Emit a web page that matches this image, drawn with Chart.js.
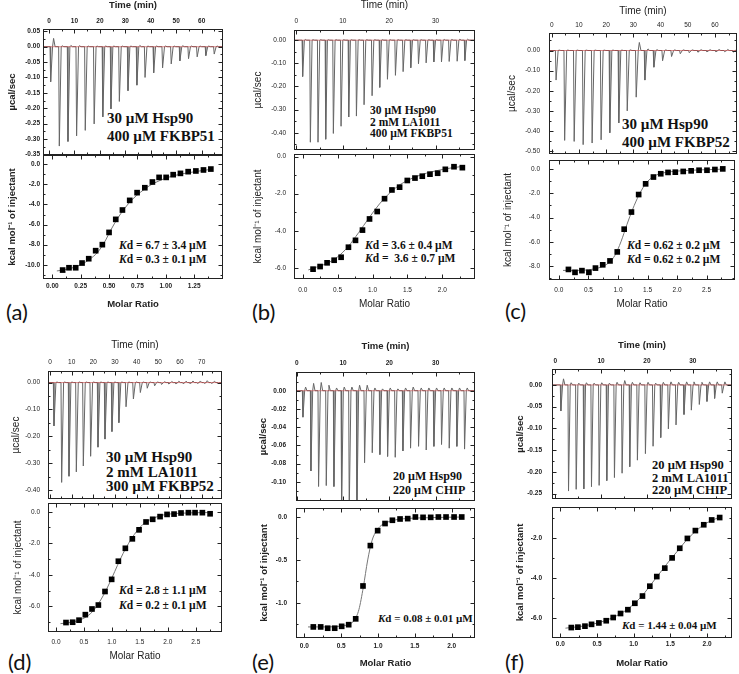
<!DOCTYPE html>
<html>
<head>
<meta charset="utf-8">
<script src="https://cdn.jsdelivr.net/npm/chart.js@4.4.1/dist/chart.umd.min.js"></script>
<style>
  body { margin: 0; background: #fff; width: 739px; height: 674px; position: relative; overflow: hidden; }
  canvas { position: absolute; }
  .note { position: absolute; font-family: "Liberation Serif", "Times New Roman", serif; font-weight: bold; color: #111; white-space: nowrap; }
  .tag { position: absolute; font-family: Lato, "Open Sans", sans-serif; font-size: 22px; line-height: 26px; color: #111; }
</style>
</head>
<body>

<div class="note" style="left:107px;top:109px;font-size:15px;line-height:18px">30 µM Hsp90<br>400 µM FKBP51</div>
<div class="note" style="left:119px;top:238px;font-size:11.5px;line-height:14px"><i>K</i>d = 6.7 ± 3.4 µM<br><i>K</i>d = 0.3 ± 0.1 µM</div>
<div class="note" style="left:370px;top:105px;font-size:11.5px;line-height:11.5px">30 µM Hsp90<br>2 mM LA1011<br>400 µM FKBP51</div>
<div class="note" style="left:365px;top:239px;font-size:11.5px;line-height:13.3px"><i>K</i>d = 3.6 ± 0.4 µM<br><i>K</i>d = &nbsp;3.6 ± 0.7 µM</div>
<div class="note" style="left:622px;top:115px;font-size:15px;line-height:18px">30 µM Hsp90<br>400 µM FKBP52</div>
<div class="note" style="left:627px;top:238px;font-size:11.5px;line-height:14px"><i>K</i>d = 0.62 ± 0.2 µM<br><i>K</i>d = 0.62 ± 0.2 µM</div>
<div class="note" style="left:106px;top:450px;font-size:15px;line-height:14.5px">30 µM Hsp90<br>2 mM LA1011<br>300 µM FKBP52</div>
<div class="note" style="left:119px;top:583px;font-size:11.5px;line-height:15.3px"><i>K</i>d = 2.8 ± 1.1 µM<br><i>K</i>d = 0.2 ± 0.1 µM</div>
<div class="note" style="left:393px;top:469px;font-size:12px;line-height:14px">20 µM Hsp90<br>220 µM CHIP</div>
<div class="note" style="left:378px;top:611px;font-size:11px;line-height:14px"><i>K</i>d = 0.08 ± 0.01 µM</div>
<div class="note" style="left:652px;top:459px;font-size:12.5px;line-height:12.5px">20 µM Hsp90<br>2 mM LA1011<br>220 µM CHIP</div>
<div class="note" style="left:622px;top:618px;font-size:11px;line-height:14px"><i>K</i>d = 1.44 ± 0.04 µM</div>

<div class="tag" style="left:6px;top:299px">(a)</div>
<div class="tag" style="left:252px;top:299px">(b)</div>
<div class="tag" style="left:505px;top:298px">(c)</div>
<div class="tag" style="left:8px;top:649px">(d)</div>
<div class="tag" style="left:252px;top:649px">(e)</div>
<div class="tag" style="left:505px;top:649px">(f)</div>

<script>
// (a) 30 uM Hsp90 / 400 uM FKBP51
const A_TIME = [0.4, 3.8, 7.2, 10.6, 14.0, 17.5, 20.9, 24.1, 27.4, 30.8, 34.3, 37.5, 40.9, 44.4, 47.8, 51.2, 54.6, 58.0, 61.4, 64.7];
const A_PEAK = [-0.114, -0.323, -0.308, -0.29, -0.272, -0.251, -0.228, -0.202, -0.178, -0.143, -0.125, -0.10, -0.085, -0.069, -0.056, -0.046, -0.039, -0.033, -0.029, -0.024];
const A_BUMP = [0.027, 0.003, 0.004, 0.003, 0.002, 0.002, 0.002, 0.002, 0.002, 0.002, 0.004, 0.002, 0.002, 0.002, 0.002, 0.003, 0.002, 0.002, 0.002, 0.002];
const A_RATIO = [0.091, 0.147, 0.206, 0.262, 0.321, 0.382, 0.441, 0.5, 0.559, 0.618, 0.682, 0.747, 0.815, 0.882, 0.941, 1.003, 1.065, 1.129, 1.197, 1.265, 1.332, 1.397];
const A_HEAT = [-10.53, -10.3, -10.3, -9.83, -9.4, -8.6, -8.0, -6.78, -5.48, -4.55, -3.59, -2.82, -2.33, -1.76, -1.3, -1.3, -1.03, -0.9, -0.73, -0.66, -0.56, -0.47];
const A_FIT_X = [0.04, 0.15, 0.25, 0.33, 0.40, 0.46, 0.52, 0.58, 0.64, 0.70, 0.78, 0.86, 0.94, 1.02, 1.12, 1.22, 1.32, 1.40];
const A_FIT_Y = [-10.62, -10.4, -10.0, -9.45, -8.75, -7.75, -6.45, -5.3, -4.35, -3.55, -2.75, -2.1, -1.65, -1.3, -1.0, -0.8, -0.62, -0.5];
const A_TIME_TICKS = [0, 10, 20, 30, 40, 50, 60];
const A_RAW_TICKS = [0.05, 0, -0.05, -0.10, -0.15, -0.20, -0.25, -0.30, -0.35];
const A_HEAT_TICKS = [0, -2, -4, -6, -8, -10];
const A_RATIO_TICKS = [0, 0.25, 0.5, 0.75, 1.0, 1.25];

// (b) 30 uM Hsp90 / 2 mM LA1011 / 400 uM FKBP51
const B_TIME = [1.22, 2.88, 4.53, 6.19, 7.84, 9.5, 11.15, 12.81, 14.46, 16.19, 17.84, 19.5, 21.22, 22.88, 24.53, 26.19, 27.84, 29.5, 31.15, 32.81, 34.53, 36.19];
const B_PEAK = [-0.157, -0.441, -0.441, -0.428, -0.403, -0.372, -0.332, -0.328, -0.279, -0.24, -0.204, -0.169, -0.152, -0.136, -0.119, -0.102, -0.098, -0.094, -0.094, -0.092, -0.091, -0.088];
const B_BUMP = [0.003, 0.002, 0.002, 0.002, 0.002, 0.002, 0.002, 0.002, 0.002, 0.002, 0.002, 0.002, 0.002, 0.002, 0.002, 0.002, 0.002, 0.002, 0.003, 0.003, 0.004, 0.004];
const B_RATIO = [0.148, 0.249, 0.349, 0.45, 0.55, 0.655, 0.756, 0.856, 0.957, 1.067, 1.172, 1.278, 1.388, 1.498, 1.608, 1.713, 1.823, 1.933, 2.043, 2.167, 2.287];
const B_HEAT = [-6.06, -5.92, -5.72, -5.58, -5.42, -4.88, -4.51, -3.96, -3.36, -2.96, -2.27, -1.80, -1.65, -1.29, -1.16, -1.06, -0.95, -0.90, -0.69, -0.55, -0.60];
const B_FIT_X = [0.08, 0.2, 0.35, 0.5, 0.65, 0.8, 0.95, 1.1, 1.25, 1.4, 1.55, 1.7, 1.85, 2.0, 2.15, 2.3];
const B_FIT_Y = [-6.1, -5.95, -5.75, -5.4, -4.85, -4.1, -3.3, -2.55, -1.95, -1.5, -1.2, -0.98, -0.82, -0.7, -0.6, -0.53];
const B_TIME_TICKS = [0, 10, 20, 30];
const B_RAW_TICKS = [0, -0.1, -0.2, -0.3, -0.4];
const B_HEAT_TICKS = [0, -2, -4, -6];
const B_RATIO_TICKS = [0, 0.5, 1.0, 1.5, 2.0];

// (c) 30 uM Hsp90 / 400 uM FKBP52
const C_TIME = [1.35, 4.5, 8.0, 11.3, 14.6, 17.9, 21.1, 24.4, 27.5, 30.8, 34.0, 37.3, 40.5, 43.8, 47.0, 50.3, 53.5, 56.8, 60.1, 63.3, 66.5];
const C_PEAK = [-0.147, -0.447, -0.452, -0.468, -0.46, -0.444, -0.409, -0.36, -0.30, -0.232, -0.147, -0.083, -0.051, -0.03, -0.016, -0.011, -0.008, -0.006, -0.006, -0.006, -0.008];
const C_BUMP = [0.002, 0.002, 0.002, 0.002, 0.002, 0.002, 0.002, 0.002, 0.003, 0.04, 0.008, 0.004, 0.003, 0.003, 0.003, 0.003, 0.004, 0.004, 0.005, 0.005, 0.005];
const C_RATIO = [0.162, 0.273, 0.39, 0.508, 0.619, 0.742, 0.865, 0.988, 1.105, 1.228, 1.35, 1.468, 1.6, 1.724, 1.847, 1.97, 2.104, 2.238, 2.372, 2.506, 2.64, 2.773];
const C_HEAT = [-8.27, -8.51, -8.37, -8.51, -8.16, -7.89, -7.57, -6.83, -4.96, -3.55, -2.11, -1.23, -0.67, -0.4, -0.29, -0.27, -0.21, -0.16, -0.11, -0.11, -0.05, 0.0];
const C_FIT_X = [0.07, 0.3, 0.5, 0.7, 0.85, 0.95, 1.05, 1.15, 1.25, 1.35, 1.45, 1.55, 1.65, 1.8, 2.0, 2.4, 2.78];
const C_FIT_Y = [-8.35, -8.35, -8.3, -8.1, -7.7, -7.1, -6.0, -4.6, -3.3, -2.2, -1.35, -0.8, -0.5, -0.3, -0.18, -0.08, -0.02];
const C_TIME_TICKS = [0, 10, 20, 30, 40, 50, 60];
const C_RAW_TICKS = [0, -0.1, -0.2, -0.3, -0.4, -0.5];
const C_HEAT_TICKS = [0, -2, -4, -6, -8];
const C_RATIO_TICKS = [0, 0.5, 1.0, 1.5, 2.0, 2.5];

// (d) 30 uM Hsp90 / 2 mM LA1011 / 300 uM FKBP52
const D_TIME = [1.54, 5.08, 8.46, 11.85, 15.08, 18.46, 21.85, 25.08, 28.3, 31.5, 34.8, 38.2, 41.4, 44.6, 48.0, 51.2, 54.5, 57.8, 61.1, 64.3, 67.7, 70.9, 74.2, 77.5];
const D_PEAK = [-0.161, -0.371, -0.348, -0.332, -0.31, -0.274, -0.240, -0.21, -0.182, -0.149, -0.09, -0.061, -0.037, -0.021, -0.012, -0.007, -0.005, -0.004, -0.004, -0.003, -0.003, -0.003, -0.003, -0.003];
const D_BUMP = [0.002, 0.002, 0.002, 0.002, 0.002, 0.002, 0.002, 0.002, 0.002, 0.002, 0.002, 0.002, 0.002, 0.002, 0.002, 0.003, 0.004, 0.005, 0.005, 0.006, 0.006, 0.007, 0.005, 0.004];
const D_RATIO = [0.179, 0.298, 0.412, 0.525, 0.644, 0.758, 0.877, 0.996, 1.116, 1.241, 1.366, 1.486, 1.611, 1.730, 1.862, 1.987, 2.112, 2.237, 2.369, 2.488, 2.619, 2.757];
const D_HEAT = [-7.03, -7.01, -6.88, -6.53, -6.17, -5.92, -5.06, -4.29, -3.14, -2.32, -1.72, -1.15, -0.65, -0.48, -0.31, -0.17, -0.15, -0.08, -0.06, -0.06, -0.06, -0.13];
const D_FIT_X = [0.08, 0.3, 0.5, 0.65, 0.8, 0.9, 1.0, 1.1, 1.2, 1.3, 1.4, 1.5, 1.6, 1.75, 1.9, 2.2, 2.76];
const D_FIT_Y = [-7.1, -7.0, -6.75, -6.35, -5.6, -4.95, -4.2, -3.4, -2.65, -2.0, -1.45, -1.0, -0.68, -0.4, -0.22, -0.1, -0.05];
const D_TIME_TICKS = [0, 10, 20, 30, 40, 50, 60, 70];
const D_RAW_TICKS = [0, -0.1, -0.2, -0.3, -0.4];
const D_HEAT_TICKS = [0, -2, -4, -6];
const D_RATIO_TICKS = [0, 0.5, 1.0, 1.5, 2.0, 2.5];

// (e) 20 uM Hsp90 / 220 uM CHIP
const E_TIME = [1.22, 2.95, 4.6, 6.26, 7.91, 9.57, 11.22, 12.88, 14.53, 16.19, 17.84, 19.5, 21.15, 22.81, 24.46, 26.19, 27.84, 29.5, 31.15, 32.81, 34.46, 36.12];
const E_PEAK = [-0.029, -0.088, -0.105, -0.104, -0.105, -0.13, -0.13, -0.13, -0.079, -0.068, -0.07, -0.072, -0.073, -0.066, -0.063, -0.061, -0.065, -0.061, -0.059, -0.063, -0.061, -0.064];
const E_BUMP = [0.004, 0.008, 0.009, 0.006, 0.003, 0.004, 0.004, 0.006, 0.006, 0.003, 0.002, 0.003, 0.002, 0.003, 0.004, 0.003, 0.003, 0.003, 0.003, 0.003, 0.003, 0.003];
const E_RATIO = [0.122, 0.222, 0.317, 0.412, 0.507, 0.602, 0.697, 0.796, 0.896, 0.995, 1.095, 1.195, 1.299, 1.403, 1.507, 1.611, 1.715, 1.819, 1.923, 2.032, 2.136];
const E_HEAT = [-1.28, -1.28, -1.295, -1.295, -1.273, -1.254, -1.186, -0.803, -0.333, -0.159, -0.076, -0.038, -0.023, -0.019, 0, -0.004, -0.004, 0, 0, 0, 0];
const E_FIT_X = [0.05, 0.3, 0.5, 0.6, 0.68, 0.74, 0.8, 0.86, 0.92, 0.98, 1.04, 1.1, 1.2, 1.35, 1.6, 2.14];
const E_FIT_Y = [-1.28, -1.28, -1.27, -1.25, -1.2, -1.08, -0.82, -0.5, -0.27, -0.16, -0.1, -0.07, -0.04, -0.02, -0.01, 0];
const E_TIME_TICKS = [0, 10, 20, 30];
const E_RAW_TICKS = [0, -0.02, -0.04, -0.06, -0.08, -0.10];
const E_HEAT_TICKS = [0, -0.5, -1.0];
const E_RATIO_TICKS = [0, 0.5, 1.0, 1.5, 2.0];

// (f) 20 uM Hsp90 / 2 mM LA1011 / 220 uM CHIP
const F_TIME = [1.09, 2.76, 4.43, 6.1, 7.77, 9.44, 11.11, 12.78, 14.45, 16.12, 17.79, 19.54, 21.21, 22.88, 24.55, 26.22, 27.96, 29.56, 31.3, 32.97, 34.64, 36.31];
const F_PEAK = [-0.06, -0.244, -0.24, -0.239, -0.234, -0.231, -0.22, -0.213, -0.203, -0.188, -0.173, -0.158, -0.141, -0.121, -0.101, -0.092, -0.068, -0.058, -0.045, -0.038, -0.031, -0.019];
const F_BUMP = [0.014, 0.005, 0.004, 0.005, 0.004, 0.005, 0.004, 0.006, 0.01, 0.006, 0.005, 0.006, 0.004, 0.006, 0.007, 0.006, 0.007, 0.007, 0.006, 0.007, 0.007, 0.007];
const F_RATIO = [0.15, 0.24, 0.336, 0.426, 0.526, 0.626, 0.721, 0.821, 0.921, 1.016, 1.12, 1.22, 1.315, 1.424, 1.524, 1.628, 1.732, 1.841, 1.955, 2.063, 2.172];
const F_HEAT = [-6.47, -6.45, -6.40, -6.31, -6.24, -6.13, -5.97, -5.77, -5.58, -5.26, -4.90, -4.41, -3.93, -3.51, -3.0, -2.52, -2.03, -1.64, -1.35, -1.11, -0.99];
const F_FIT_X = [0.07, 0.3, 0.5, 0.7, 0.9, 1.0, 1.1, 1.2, 1.3, 1.4, 1.5, 1.6, 1.7, 1.8, 1.9, 2.0, 2.17];
const F_FIT_Y = [-6.5, -6.4, -6.25, -6.0, -5.6, -5.3, -4.95, -4.5, -4.02, -3.55, -3.08, -2.65, -2.2, -1.82, -1.5, -1.25, -0.97];
const F_TIME_TICKS = [0, 10, 20, 30];
const F_RAW_TICKS = [0, -0.05, -0.10, -0.15, -0.20, -0.25];
const F_HEAT_TICKS = [-2, -4, -6];
const F_RATIO_TICKS = [0, 0.5, 1.0, 1.5, 2.0];


const FONT = "'Liberation Sans', Arial, sans-serif";
const TICK_SIZE = 6.5;

// box + inward ticks on all four sides, like the Origin plots
const framePlugin = {
    id: 'frame',
    afterDraw(chart) {
        const ctx = chart.ctx;
        const a = chart.chartArea;
        const l = Math.round(a.left) + 0.5, r = Math.round(a.right) - 0.5;
        const t = Math.round(a.top) + 0.5, b = Math.round(a.bottom) - 0.5;
        ctx.save();
        ctx.strokeStyle = '#222';
        ctx.lineWidth = 1;
        ctx.strokeRect(l, t, r - l, b - t);
        ctx.beginPath();
        ['x', 'y'].forEach(k => {
            const s = chart.scales[k];
            const vals = s.ticks.map(tk => tk.value);
            const step = Math.abs(vals[1] - vals[0]);
            const lo = Math.min(s.min, s.max), hi = Math.max(s.min, s.max);
            const marks = vals.map(v => [v, 4]);
            for (let v = Math.min(...vals) - step / 2; v > lo; v -= step) marks.push([v, 2]);
            for (let v = Math.min(...vals) + step / 2; v < hi; v += step) marks.push([v, 2]);
            marks.forEach(([v, len]) => {
                const p = Math.round(s.getPixelForValue(v)) + 0.5;
                if (k === 'x') {
                    ctx.moveTo(p, t); ctx.lineTo(p, t + len);
                    ctx.moveTo(p, b); ctx.lineTo(p, b - len);
                } else {
                    ctx.moveTo(l, p); ctx.lineTo(l + len, p);
                    ctx.moveTo(r, p); ctx.lineTo(r - len, p);
                }
            });
        });
        ctx.stroke();
        ctx.restore();
    }
};

function pts(xs, ys) {
    return xs.map((x, i) => ({x: x, y: ys[i]}));
}

// thermogram trace built from injection times, peak heights and small overshoots
function trace(times, peaks, bumps, w, lo, hi) {
    const out = [{x: lo, y: 0}];
    times.forEach((t, i) => {
        out.push({x: t, y: 0}, {x: t + w * 0.25, y: peaks[i]}, {x: t + w, y: 0},
                 {x: t + w * 1.4, y: bumps[i]}, {x: t + w * 2, y: 0});
    });
    out.push({x: hi, y: 0});
    return out;
}

function subplot(p) {
    const c = document.createElement('canvas');
    c.width = p.x1 - p.x0;
    c.height = p.y1 - p.y0;
    c.style.left = p.x0 + 'px';
    c.style.top = p.y0 + 'px';
    document.body.appendChild(c);

    const [bl, bt, br, bb] = p.box;
    const weight = p.bold ? 'bold' : 'normal';
    const tlh = TICK_SIZE * 1.2;
    const xlh = p.xts * 1.2, ylh = p.yts * 1.2;
    const isTop = p.top;

    new Chart(c, {
        type: 'scatter',
        data: {datasets: p.datasets},
        options: {
            responsive: false,
            animation: false,
            devicePixelRatio: 1,
            layout: {padding: {left: 0, right: p.x1 - br, top: isTop ? 0 : bt - p.y0, bottom: isTop ? p.y1 - bb : 0}},
            plugins: {legend: {display: false}, tooltip: {enabled: false}},
            scales: {
                x: {
                    type: 'linear',
                    position: isTop ? 'top' : 'bottom',
                    min: p.xr[0], max: p.xr[1],
                    afterFit: s => { s.height = isTop ? bt - p.y0 : p.y1 - bb; },
                    afterBuildTicks: s => { s.ticks = p.xticks.map(v => ({value: v})); },
                    grid: {display: false, drawTicks: false},
                    border: {display: false},
                    ticks: {
                        font: {family: FONT, size: TICK_SIZE, weight: weight}, color: '#222',
                        padding: isTop ? bt - p.xLabY - tlh / 2 : p.xLabY - bb - tlh / 2,
                        autoSkip: false, maxRotation: 0,
                        callback: v => Number(v).toFixed(p.xdp)
                    },
                    title: {
                        display: true, text: p.xTitle, color: '#222',
                        font: {family: FONT, size: p.xts, weight: weight},
                        padding: isTop ? {top: p.xTitleY - p.y0 - xlh / 2, bottom: 0} : {top: 0, bottom: p.y1 - p.xTitleY - xlh / 2}
                    }
                },
                y: {
                    type: 'linear',
                    position: 'left',
                    min: p.yr[0], max: p.yr[1],
                    afterFit: s => { s.width = bl - p.x0; },
                    afterBuildTicks: s => { s.ticks = p.yticks.map(v => ({value: v})); },
                    grid: {display: false, drawTicks: false},
                    border: {display: false},
                    ticks: {
                        font: {family: FONT, size: TICK_SIZE, weight: weight}, color: '#222',
                        padding: bl - p.yLabR,
                        autoSkip: false,
                        callback: v => Number(v).toFixed(p.ydp)
                    },
                    title: {
                        display: true, text: p.yTitle, color: '#222',
                        font: {family: FONT, size: p.yts, weight: weight},
                        padding: {top: p.yTitleX - p.x0 - ylh / 2, bottom: 0}
                    }
                }
            }
        },
        plugins: [framePlugin]
    });
}

// lower dataset index is drawn on top in Chart.js
function panel(q) {
    const [x0, x1] = q.cols;
    subplot(Object.assign({}, q.top, {
        top: true, x0: x0, x1: x1, bold: q.bold,
        xticks: q.timeTicks, yticks: q.rawTicks, xdp: 0,
        xTitle: 'Time (min)', yTitle: 'µcal/sec', xts: q.ts, yts: q.ts,
        datasets: [
            {data: [{x: q.top.xr[0], y: 0}, {x: q.top.xr[1], y: 0}], showLine: true,
             borderColor: 'rgba(200, 60, 60, 0.8)', borderWidth: 0.7, pointRadius: 0},
            {data: trace(q.time, q.peak, q.bump, q.w, q.top.xr[0], q.top.xr[1]), showLine: true,
             borderColor: '#666', borderWidth: 1, pointRadius: 0}
        ]
    }));
    subplot(Object.assign({}, q.bot, {
        top: false, x0: x0, x1: x1, bold: q.bold,
        xticks: q.ratioTicks, yticks: q.heatTicks,
        xTitle: 'Molar Ratio', yTitle: 'kcal mol⁻¹ of injectant', xts: q.ts, yts: q.ts,
        datasets: [
            {data: pts(q.ratio, q.heat), pointStyle: 'rect', pointRadius: 4,
             backgroundColor: '#000', borderColor: '#000', borderWidth: 0},
            {data: pts(q.fitX, q.fitY), showLine: true, borderColor: '#777', borderWidth: 1,
             pointRadius: 0, cubicInterpolationMode: 'monotone'}
        ]
    }));
}

panel({
    cols: [0, 245], bold: true, ts: 9.5, w: 1.0,
    time: A_TIME, peak: A_PEAK, bump: A_BUMP, ratio: A_RATIO, heat: A_HEAT, fitX: A_FIT_X, fitY: A_FIT_Y,
    timeTicks: A_TIME_TICKS, rawTicks: A_RAW_TICKS, heatTicks: A_HEAT_TICKS, ratioTicks: A_RATIO_TICKS,
    top: {y0: 0, y1: 165, box: [43, 29, 223, 155], xr: [-2.36, 68.4], yr: [-0.352, 0.0575], ydp: 2,
          yLabR: 40, xLabY: 21.3, xTitleY: 5.7, yTitleX: 12},
    bot: {y0: 145, y1: 322, box: [43, 155, 223, 279], xr: [-0.082, 1.504], yr: [-11.42, 0.93], xdp: 2, ydp: 1,
          yLabR: 40, xLabY: 286, xTitleY: 304, yTitleX: 12}
});

panel({
    cols: [245, 490], bold: false, ts: 10, w: 0.5,
    time: B_TIME, peak: B_PEAK, bump: B_BUMP, ratio: B_RATIO, heat: B_HEAT, fitX: B_FIT_X, fitY: B_FIT_Y,
    timeTicks: B_TIME_TICKS, rawTicks: B_RAW_TICKS, heatTicks: B_HEAT_TICKS, ratioTicks: B_RATIO_TICKS,
    top: {y0: 0, y1: 162, box: [294, 30, 475, 152], xr: [-0.52, 38.5], yr: [-0.475, 0.044], ydp: 2,
          yLabR: 286, xLabY: 21, xTitleY: 5.7, yTitleX: 258},
    bot: {y0: 142, y1: 322, box: [294, 152, 475, 279], xr: [-0.125, 2.468], yr: [-6.59, 0.14], xdp: 1, ydp: 1,
          yLabR: 286, xLabY: 290, xTitleY: 304, yTitleX: 258}
});

panel({
    cols: [490, 739], bold: false, ts: 10, w: 1.0,
    time: C_TIME, peak: C_PEAK, bump: C_BUMP, ratio: C_RATIO, heat: C_HEAT, fitX: C_FIT_X, fitY: C_FIT_Y,
    timeTicks: C_TIME_TICKS, rawTicks: C_RAW_TICKS, heatTicks: C_HEAT_TICKS, ratioTicks: C_RATIO_TICKS,
    top: {y0: 0, y1: 167, box: [549, 33, 737, 157], xr: [-1.0, 68.1], yr: [-0.515, 0.087], ydp: 2,
          yLabR: 540, xLabY: 25.7, xTitleY: 11, yTitleX: 512},
    bot: {y0: 147, y1: 322, box: [549, 157, 737, 280], xr: [-0.167, 2.98], yr: [-9.14, 0.74], xdp: 1, ydp: 1,
          yLabR: 540, xLabY: 290.7, xTitleY: 304, yTitleX: 508}
});

panel({
    cols: [0, 245], bold: false, ts: 10, w: 1.2,
    time: D_TIME, peak: D_PEAK, bump: D_BUMP, ratio: D_RATIO, heat: D_HEAT, fitX: D_FIT_X, fitY: D_FIT_Y,
    timeTicks: D_TIME_TICKS, rawTicks: D_RAW_TICKS, heatTicks: D_HEAT_TICKS, ratioTicks: D_RATIO_TICKS,
    top: {y0: 330, y1: 511, box: [48, 371, 222, 501], xr: [-0.92, 79.4], yr: [-0.433, 0.043], ydp: 2,
          yLabR: 40, xLabY: 362.7, xTitleY: 345.7, yTitleX: 16},
    bot: {y0: 491, y1: 674, box: [48, 501, 222, 632], xr: [-0.143, 2.97], yr: [-7.63, 0.56], xdp: 1, ydp: 1,
          yLabR: 40, xLabY: 642.7, xTitleY: 656.7, yTitleX: 18}
});

panel({
    cols: [245, 490], bold: true, ts: 9.5, w: 0.5,
    time: E_TIME, peak: E_PEAK, bump: E_BUMP, ratio: E_RATIO, heat: E_HEAT, fitX: E_FIT_X, fitY: E_FIT_Y,
    timeTicks: E_TIME_TICKS, rawTicks: E_RAW_TICKS, heatTicks: E_HEAT_TICKS, ratioTicks: E_RATIO_TICKS,
    top: {y0: 330, y1: 515, box: [296, 372, 475, 505], xr: [-0.15, 38.5], yr: [-0.121, 0.0205], ydp: 2,
          yLabR: 286, xLabY: 363.3, xTitleY: 346, yTitleX: 263},
    bot: {y0: 495, y1: 674, box: [296, 505, 475, 638], xr: [-0.113, 2.316], yr: [-1.409, 0.106], xdp: 1, ydp: 1,
          yLabR: 287, xLabY: 646, xTitleY: 663.3, yTitleX: 264}
});

panel({
    cols: [490, 739], bold: true, ts: 9.5, w: 0.5,
    time: F_TIME, peak: F_PEAK, bump: F_BUMP, ratio: F_RATIO, heat: F_HEAT, fitX: F_FIT_X, fitY: F_FIT_Y,
    timeTicks: F_TIME_TICKS, rawTicks: F_RAW_TICKS, heatTicks: F_HEAT_TICKS, ratioTicks: F_RATIO_TICKS,
    top: {y0: 330, y1: 513, box: [552, 369, 732, 503], xr: [-0.72, 38.56], yr: [-0.2625, 0.0366], ydp: 2,
          yLabR: 542, xLabY: 361.7, xTitleY: 345, yTitleX: 520},
    bot: {y0: 493, y1: 674, box: [552, 503, 732, 638], xr: [-0.113, 2.34], yr: [-6.99, -0.46], xdp: 1, ydp: 1,
          yLabR: 542, xLabY: 644, xTitleY: 663.3, yTitleX: 520}
});
</script>
</body>
</html>
